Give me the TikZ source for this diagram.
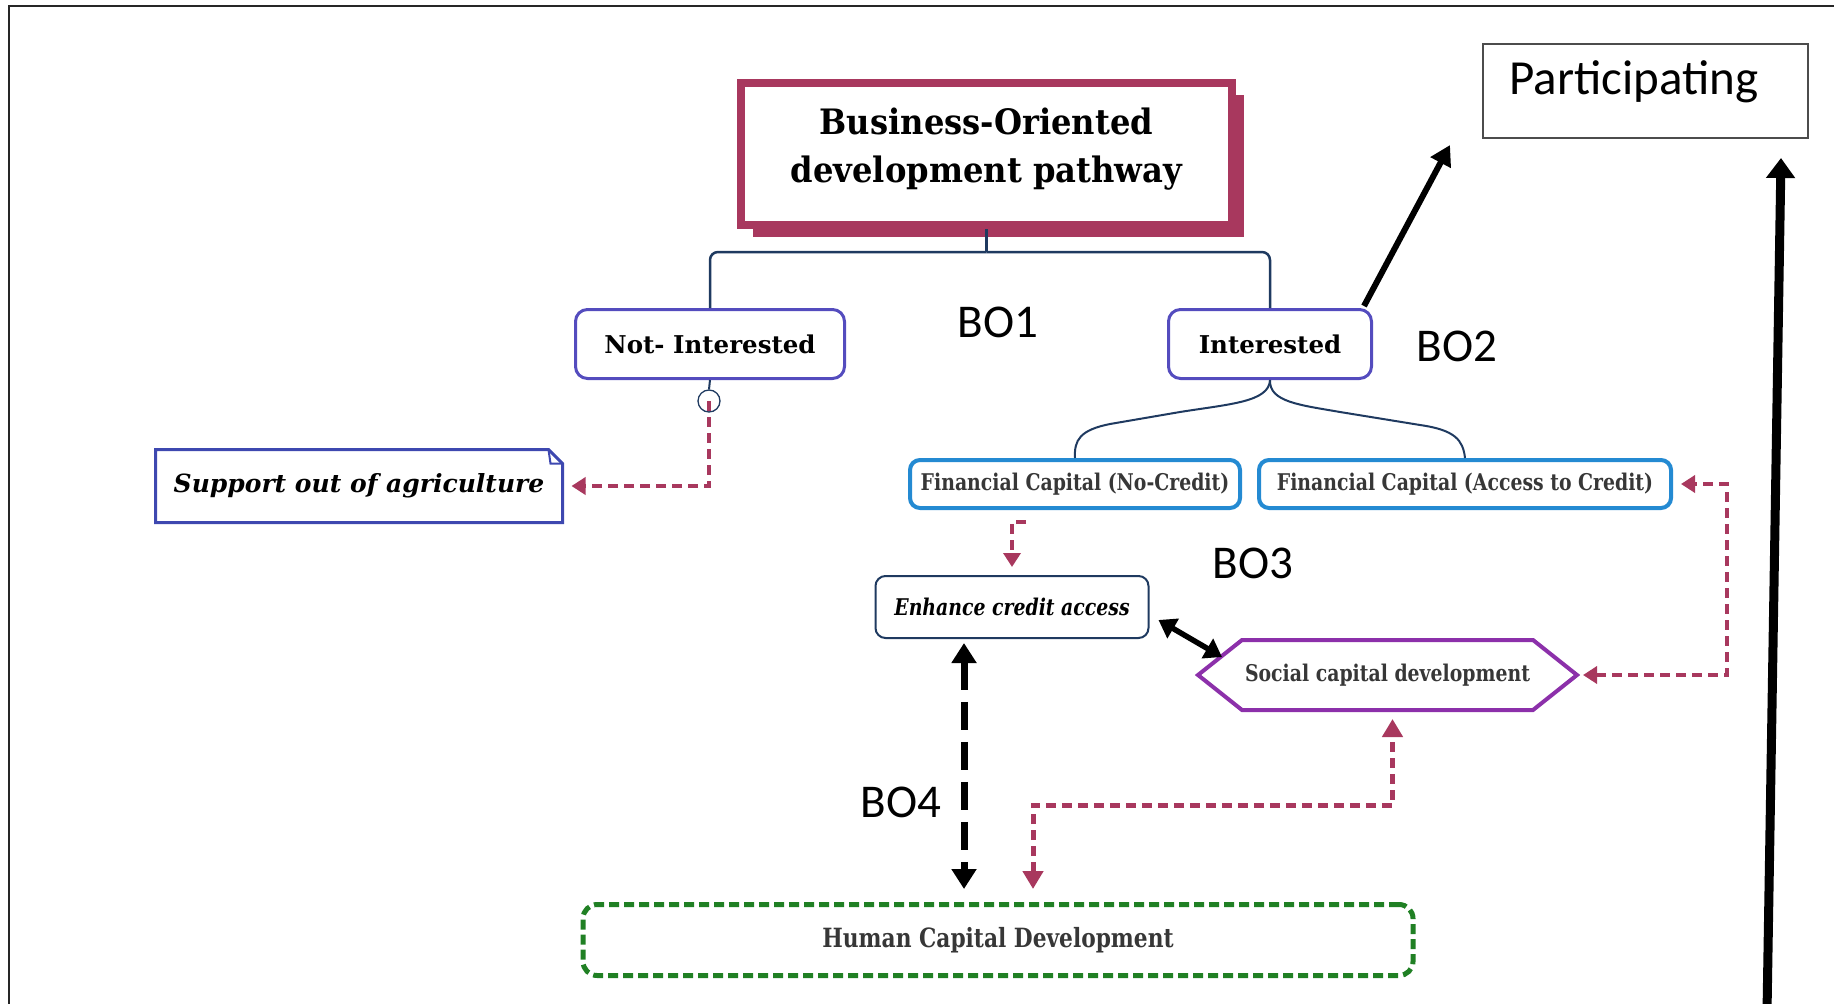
\documentclass[tikz,border=0pt]{standalone}
\usepackage{fontspec}
\setmainfont{DejaVu Serif}
\newfontfamily\condf[FakeStretch=0.82]{DejaVu Serif}
\newfontfamily\titlef[FakeStretch=0.92]{DejaVu Serif}
\newfontfamily\calib{Carlito}
\usetikzlibrary{arrows.meta,shadows,calc}
\definecolor{crim}{RGB}{168,56,94}
\definecolor{navy}{RGB}{31,58,96}
\definecolor{bpurp}{RGB}{84,76,190}
\definecolor{sblue}{RGB}{62,72,176}
\definecolor{lblue}{RGB}{36,138,210}
\definecolor{purp}{RGB}{140,48,170}
\definecolor{hgreen}{RGB}{32,128,36}
\definecolor{dgrey}{RGB}{55,55,55}
\tikzset{
  titlebox/.style={draw=crim, line width=8.5pt, fill=white, minimum width=491pt, minimum height=142pt,
    drop shadow={shadow xshift=12pt, shadow yshift=-12pt, fill=crim, opacity=1}},
  titletext/.style={align=center, font=\titlef\bfseries\fontsize{35}{48}\selectfont},
  tree/.style={draw=navy, line width=2.5pt},
  choice/.style={draw=bpurp, line width=3pt, rounded corners=12pt, minimum height=69pt, font=\bfseries\fontsize{24.5}{26}\selectfont},
  fcbox/.style={draw=lblue, line width=4pt, rounded corners=10pt, minimum height=48pt, text=dgrey, font=\condf\bfseries\fontsize{23}{25}\selectfont},
  ecabox/.style={draw=navy, line width=2pt, rounded corners=10pt, minimum width=273pt, minimum height=62pt, font=\condf\bfseries\itshape\fontsize{23}{25}\selectfont},
  hexline/.style={draw=purp, line width=4pt, line join=miter},
  hcdbox/.style={draw=hgreen, line width=5pt, dash pattern=on 10pt off 5pt, rounded corners=14pt, minimum width=830pt, minimum height=71pt, text=dgrey, font=\condf\bfseries\fontsize{26.5}{28}\selectfont},
  cdash/.style={draw=crim, line width=4pt, dash pattern=on 10pt off 6pt},
  ctip/.style={-{Triangle[length=14pt,width=17pt]}},
  bolabel/.style={font=\calib\fontsize{47}{47}\selectfont},
  blackarrow/.style={draw=black, line width=6pt, -{Triangle[length=20pt,width=22pt]}}
}
\begin{document}
\begin{tikzpicture}[x=1pt,y=-1pt]
\useasboundingbox (0,0) rectangle (1834,1004);
% frame
\draw[line width=2.5pt, black!85] (1834,6) -- (9,6) -- (9,1004);
% title
\node[titlebox] (title) at (986.5,154) {};
\node[titletext] (ttext) at ($(title.center)+(0,-5)$) {Business-Oriented\\development pathway};
\node[choice, minimum width=269pt] (ni) at (710,344) {Not- Interested};
\node[choice, minimum width=203pt] (int) at (1270,344) {Interested};
\coordinate (tj) at (986.5,252);
\draw[tree] (title.south) -- (tj);
\draw[tree, rounded corners=8pt] (tj) -| (ni.north);
\draw[tree, rounded corners=8pt] (tj) -| (int.north);
% BO labels
\node[bolabel] (bo1) at (998,322) {BO1};
\node[bolabel] (bo2) at (1457,346) {BO2};
\node[bolabel] (bo3) at (1253,563) {BO3};
\node[bolabel] (bo4) at (901,802) {BO4};
% participating
\node[draw=black!70, line width=1.5pt, minimum width=325pt, minimum height=94pt] (pbox) at (1645.5,91) {};
\node[font=\calib\fontsize{49}{49}\selectfont] (ptxt) at (1634,82) {Participating};
\coordinate (pa) at (1450,145);
\draw[blackarrow] ($(int.north east)+(-9,-2)$) -- (pa);
\coordinate (vb) at (1767,1012);
\coordinate (vt) at (1781,158);
\draw[draw=black, line width=9pt, -{Triangle[length=20pt,width=28pt]}] (vb) -- (vt);
% support out of agriculture
\node[outer sep=0pt, minimum width=407pt, minimum height=73pt, font=\bfseries\itshape\fontsize{25}{28}\selectfont] (sup) at (359,486) {Support out of agriculture};
\draw[draw=sblue, line width=3pt, line join=miter] (sup.north west) -- ($(sup.north east)+(-14,0)$) -- ($(sup.north east)+(0,14)$) -- (sup.south east) -- (sup.south west) -- cycle;
\draw[draw=sblue, line width=2pt] ($(sup.north east)+(-14,0)$) -- ($(sup.north east)+(-12,14)$) -- ($(sup.north east)+(0,14)$);
% circle under not-interested
\node[circle, draw=navy, line width=1.3pt, minimum size=22pt, inner sep=0pt] (ci) at (709,401) {};
\draw[tree, line width=2pt] (ni.south) -- (ci.north);
\draw[cdash, ctip] (ci.center) |- ($(sup.east)+(9,0)$);
% financial capital
\node[fcbox, minimum width=330pt] (fc1) at (1075,484) {Financial Capital (No-Credit)};
\node[fcbox, minimum width=412pt] (fc2) at (1465,484) {Financial Capital (Access to Credit)};
\draw[tree, line width=2pt] (int.south) .. controls (1269,402) and (1230,404) .. (1180,412) -- (1110,424) .. controls (1080,430) and (1074,440) .. (fc1.north);
\draw[tree, line width=2pt] (int.south) .. controls (1269,402) and (1300,405) .. (1340,412) -- (1420,425) .. controls (1455,430) and (1463,440) .. (fc2.north);
% enhance credit access
\node[ecabox] (eca) at (1012,607) {Enhance credit access};
\draw[cdash, ctip] ($(fc1.south)+(-49,12)$) -| ($(eca.north)+(0,-8)$);
% social capital hexagon
\node[outer sep=0pt, minimum width=379pt, minimum height=70pt, text=dgrey, font=\condf\bfseries\fontsize{23}{25}\selectfont] (sc) at (1387.5,675) {Social capital development};
\draw[hexline] (sc.west) -- ($(sc.north west)+(44,0)$) -- ($(sc.north east)+(-44,0)$) -- (sc.east) -- ($(sc.south east)+(-44,0)$) -- ($(sc.south west)+(44,0)$) -- cycle;
\draw[draw=black, line width=5.5pt, {Triangle[length=17pt,width=22pt]}-{Triangle[length=17pt,width=22pt]}] ($(eca.east)+(9,13)$) -- ($(sc.west)+(24,-18)$);
\draw[cdash, {Triangle[length=14pt,width=17pt]}-{Triangle[length=14pt,width=17pt]}] ($(sc.east)+(6,0)$) -- ++(144,0) |- ($(fc2.east)+(8,0)$);
% human capital
\node[hcdbox] (hcd) at (998,940) {Human Capital Development};
\draw[draw=black, line width=7pt, dash pattern=on 28pt off 12pt, {Triangle[length=20pt,width=24pt]}-{Triangle[length=20pt,width=24pt]}] ($(eca.south)+(-48,4)$) -- ($(hcd.north)+(-34,-13)$);
\draw[cdash, line width=5pt, {Triangle[length=18pt,width=20pt]}-{Triangle[length=18pt,width=20pt]}] ($(hcd.north)+(35,-13)$) -- ++(0,-84) -| ($(sc.south)+(5,9)$);
\end{tikzpicture}
\end{document}
